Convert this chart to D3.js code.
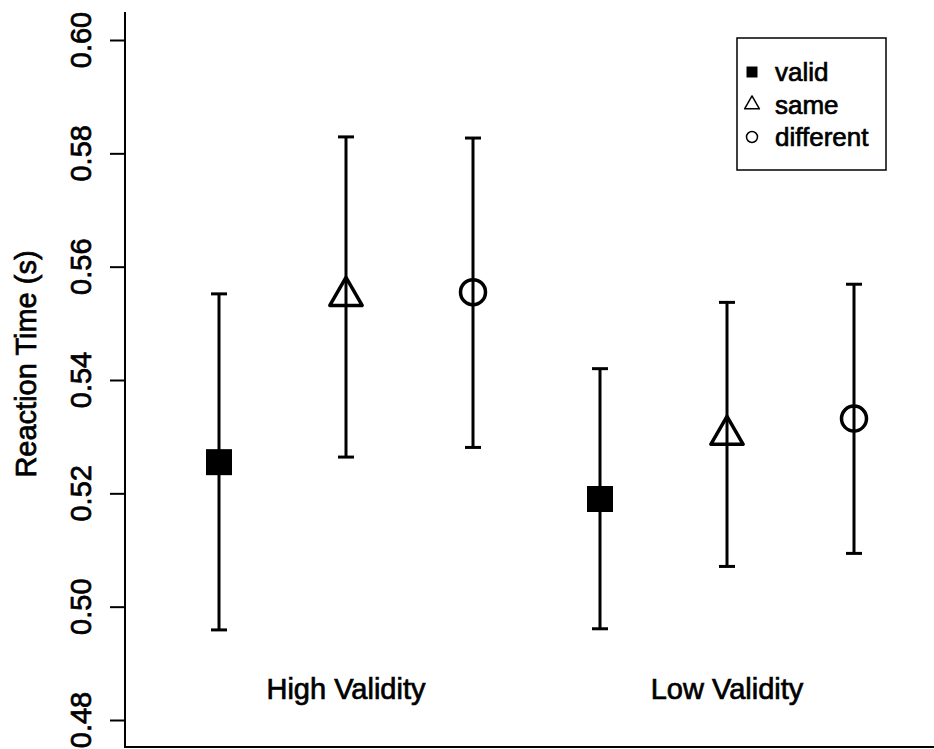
<!DOCTYPE html>
<html lang="en">
<head>
    <meta charset="UTF-8">
    <title>Reaction Time by Validity</title>
    <script src="https://d3js.org/d3.v7.min.js"></script>
    <style>
        body { margin: 0; background: #fff; }
        svg { display: block; font-family: "Liberation Sans", Arial, sans-serif; }
        svg text { fill: #000; stroke: #000; stroke-width: 0.7px; }
        .frame { stroke: #000; stroke-width: 2px; fill: none; }
        .tick-label { font-size: 29px; text-anchor: middle; }
        .axis-title { font-size: 29px; text-anchor: middle; }
        .group-label { font-size: 29px; text-anchor: middle; }
        .legend-text { font-size: 26px; }
        .bar { stroke: #000; stroke-width: 3px; }
    </style>
</head>
<body>
    <div id="chart"></div>
    <script>
        // data
        const groups = ["High Validity", "Low Validity"];
        const conditions = ["valid", "same", "different"];
        const means = [[0.5255, 0.5548, 0.5555], [0.5190, 0.5303, 0.5332]];
        const upper = [[0.5552, 0.5829, 0.5827], [0.5420, 0.5537, 0.5569]];
        const lower = [[0.4959, 0.5264, 0.5281], [0.4961, 0.5071, 0.5094]];
        const yTicks = [0.48, 0.50, 0.52, 0.54, 0.56, 0.58, 0.60];

        const W = 934, H = 749;
        const plot = {left: 125, top: 12, bottom: 747};

        const svg = d3.select("#chart").append("svg")
            .attr("width", W).attr("height", H);

        const y = d3.scaleLinear().domain([0.48, 0.60]).range([720, 40]);
        const x = d3.scaleLinear().domain([1, 6]).range([219, 854]);

        // L-shaped frame
        svg.append("path").attr("class", "frame")
            .attr("d", `M${plot.left},${plot.top}V${plot.bottom}H${W}`);

        // y axis ticks + rotated labels
        const yAxis = svg.append("g")
            .attr("transform", `translate(${plot.left},0)`)
            .call(d3.axisLeft(y).tickValues(yTicks).tickSize(15).tickSizeOuter(0).tickFormat(""));
        yAxis.select(".domain").remove();
        yAxis.selectAll(".tick line").attr("stroke", "#000").attr("stroke-width", 2);

        svg.selectAll(".tick-label").data(yTicks).join("text")
            .attr("class", "tick-label")
            .attr("transform", d => `translate(91,${y(d)}) rotate(-90)`)
            .text(d3.format(".2f"));

        svg.append("text").attr("class", "axis-title")
            .attr("transform", "translate(36,364) rotate(-90)")
            .text("Reaction Time (s)");

        // flatten into points
        const points = [];
        groups.forEach((g, gi) => {
            conditions.forEach((c, ci) => {
                points.push({pos: gi * 3 + ci + 1, cond: c, mean: means[gi][ci], hi: upper[gi][ci], lo: lower[gi][ci]});
            });
        });

        // error bars
        const bars = svg.append("g");
        points.forEach(p => {
            bars.append("line").attr("class", "bar")
                .attr("x1", x(p.pos)).attr("x2", x(p.pos))
                .attr("y1", y(p.hi)).attr("y2", y(p.lo));
            [p.hi, p.lo].forEach(v => {
                bars.append("line").attr("class", "bar")
                    .attr("x1", x(p.pos) - 8).attr("x2", x(p.pos) + 8)
                    .attr("y1", y(v)).attr("y2", y(v));
            });
        });

        // R-style pch symbols
        function drawSymbol(sel, cond, cx, cy, s, sw) {
            if (cond === "valid") {
                sel.append("rect")
                    .attr("x", cx - s).attr("y", cy - s)
                    .attr("width", 2 * s).attr("height", 2 * s)
                    .attr("fill", "#000");
            } else if (cond === "same") {
                const r = 1.5551 * s, xc = 1.3468 * s, yc = 0.7776 * s;
                sel.append("path")
                    .attr("d", `M${cx},${cy - r}L${cx + xc},${cy + yc}L${cx - xc},${cy + yc}Z`)
                    .attr("fill", "none").attr("stroke", "#000")
                    .attr("stroke-width", sw).attr("stroke-linejoin", "round");
            } else {
                sel.append("circle")
                    .attr("cx", cx).attr("cy", cy).attr("r", s)
                    .attr("fill", "none").attr("stroke", "#000").attr("stroke-width", sw);
            }
        }

        const marks = svg.append("g");
        points.forEach(p => {
            const size = p.cond === "valid" ? 13 : (p.cond === "same" ? 12 : 12.5);
            drawSymbol(marks, p.cond, x(p.pos), y(p.mean), size, 3.5);
        });

        // group labels
        svg.selectAll(".group-label").data(groups).join("text")
            .attr("class", "group-label")
            .attr("x", (d, i) => x(i * 3 + 2))
            .attr("y", 699)
            .text(d => d);

        // legend
        const legend = svg.append("g").attr("transform", "translate(737,38)");
        legend.append("rect")
            .attr("width", 149).attr("height", 132)
            .attr("fill", "#fff").attr("stroke", "#000").attr("stroke-width", 1.5);
        conditions.forEach((c, i) => {
            const ly = 34 + i * 32.5;
            drawSymbol(legend, c, 15, ly, c === "valid" ? 5.5 : 5.5, 1.5);
            legend.append("text").attr("class", "legend-text")
                .attr("x", 38).attr("y", ly + 9)
                .text(c);
        });
    </script>
</body>
</html>
